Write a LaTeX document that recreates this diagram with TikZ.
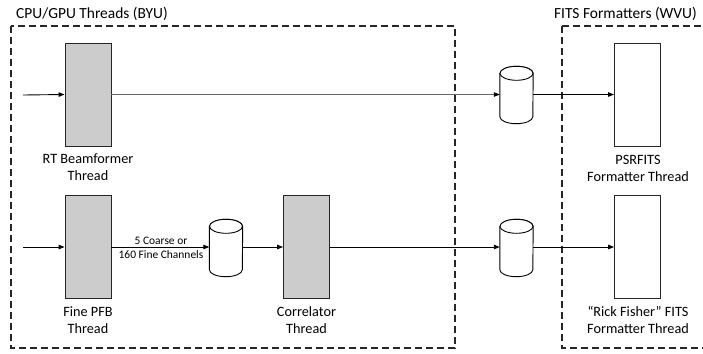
\documentclass[tikz,border=0pt]{standalone}
\usepackage{fontspec}
\setmainfont{Carlito}
\usetikzlibrary{arrows.meta,calc}
\tikzset{
  grp/.style={draw=black!85, line width=1.1bp, dash pattern=on 7bp off 4bp},
  thr/.style={draw=black!85, line width=0.9bp, fill=black!20, minimum width=46bp, minimum height=103bp, inner sep=0pt},
  fthr/.style={thr, fill=white},
  lbl/.style={font=\fontsize{14.3}{17}\selectfont, align=center, inner sep=0pt},
  ttl/.style={font=\fontsize{15.5}{18}\selectfont, inner sep=0pt, anchor=west},
  small/.style={font=\fontsize{11.5}{14}\selectfont, align=center, inner sep=0pt},
  cylbox/.style={minimum width=33bp, minimum height=57bp, inner sep=0pt, draw=none},
  tip/.style={-{Triangle[length=6bp,width=4.5bp,fill=black,color=black]}},
  flow/.style={line width=0.9bp, tip},
  gflow/.style={flow, draw=black!60},
  cyl/.style={draw=black, line width=0.9bp, fill=white}
}
\newcommand{\drawcyl}[1]{%
  \path[cyl] (#1.north west) ++(0,-7bp) -- ($(#1.south west)+(0,7bp)$)
     arc[start angle=180, end angle=360, x radius=16.5bp, y radius=7bp]
     -- ($(#1.north east)+(0,-7bp)$)
     arc[start angle=0, end angle=180, x radius=16.5bp, y radius=7bp] -- cycle;
  \draw[cyl] ($(#1.north)+(0,-7bp)$) ellipse[x radius=16.5bp, y radius=7bp];}
\begin{document}
\begin{tikzpicture}[x=1bp,y=-1bp]
\useasboundingbox (0,0) rectangle (703,353);
% groups
\draw[grp] (11,26) rectangle (455,348);
\draw[grp] (562,26) -- (710,26);
\draw[grp] (562,26) -- (562,348) -- (710,348);
\node[ttl] (t1) at (16,14) {CPU/GPU Threads (BYU)};
\node[ttl,anchor=east] (t2) at (697,14) {FITS Formatters (WVU)};
% coordinates of free ends
\coordinate (in1) at (23,95);
\coordinate (in2) at (23,247);
% threads
\node[thr] (rt) at (88,94.5) {};
\node[lbl] (rtl) at (88,167) {RT Beamformer\\Thread};
\node[thr] (pfb) at (88,247) {};
\node[lbl] (pfbl) at (88,320) {Fine PFB\\Thread};
\node[thr] (cor) at (306.5,247) {};
\node[lbl] (corl) at (306.5,320) {Correlator\\Thread};
\node[fthr] (ps) at (637.5,94.5) {};
\node[lbl] (psl) at (638,168) {PSRFITS\\Formatter Thread};
\node[fthr] (rf) at (637.5,247) {};
\node[lbl] (rfl) at (638,320) {“Rick Fisher” FITS\\Formatter Thread};
% cylinders
\node[cylbox] (c1) at (516.5,95) {};
\node[cylbox] (c2) at (226,248) {};
\node[cylbox] (c3) at (516.5,248) {};
% connectors
\draw[flow] (in1) -- (rt.west);
\draw[gflow] (rt.east) -- (c1.west |- rt.east);
\draw[flow] (in2) -- (pfb.west);
\draw[flow] (pfb.east) -- (c2.west |- pfb.east);
\node[small] (ch) at (161,247.5) {5 Coarse or\\160 Fine Channels};
\draw[flow] (c2.east |- cor.west) -- (cor.west);
\draw[flow] (cor.east) -- (c3.west |- cor.east);
\drawcyl{c1}
\drawcyl{c2}
\drawcyl{c3}
\draw[flow] (c1.east |- ps.west) -- (ps.west);
\draw[flow] (c3.east |- rf.west) -- (rf.west);
\end{tikzpicture}
\end{document}
